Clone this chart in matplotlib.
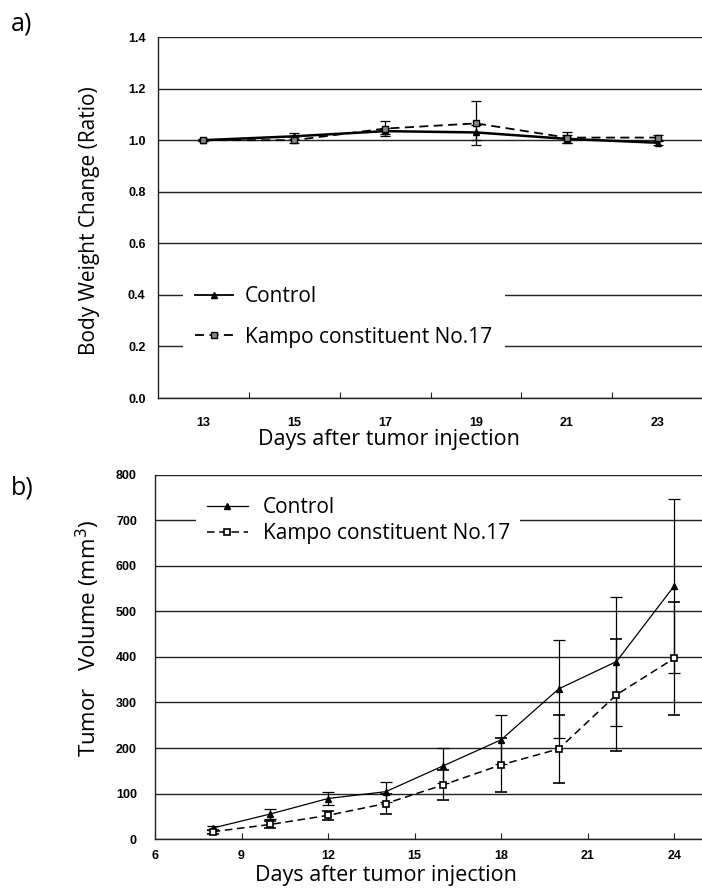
import matplotlib
matplotlib.use("Agg")
import matplotlib.pyplot as plt
from matplotlib.lines import Line2D
from matplotlib.ticker import FixedLocator, NullFormatter

# body weight ratio, panel a
bw_days = [13, 15, 17, 19, 21, 23]
bw_control = [1.00, 1.015, 1.035, 1.03, 1.005, 0.99]
bw_control_err = [0.005, 0.012, 0.012, 0.03, 0.015, 0.008]
bw_kampo = [1.00, 1.00, 1.045, 1.065, 1.01, 1.01]
bw_kampo_err = [0.005, 0.012, 0.028, 0.085, 0.022, 0.01]
bw_yticks = [0.0, 0.2, 0.4, 0.6, 0.8, 1.0, 1.2, 1.4]

# tumor volume (mm3), panel b
tv_days = [8, 10, 12, 14, 16, 18, 20, 22, 24]
tv_control = [24, 55, 89, 104, 161, 218, 330, 390, 556]
tv_control_err = [5, 10, 14, 22, 38, 54, 108, 142, 192]
tv_kampo = [16, 32, 52, 78, 119, 163, 198, 317, 397]
tv_kampo_err = [4, 7, 10, 22, 33, 59, 74, 123, 124]
tv_xticks = [6, 9, 12, 15, 18, 21, 24]
tv_yticks = [0, 100, 200, 300, 400, 500, 600, 700, 800]

series_names = ["Control", "Kampo constituent No.17"]

text_font = ["Open Sans", "DejaVu Sans"]
tick_font = ["Liberation Sans Narrow", "Liberation Sans", "DejaVu Sans"]
dash = (0, (5, 3))

fig = plt.figure(figsize=(7.02, 8.9), dpi=100)


def style_axes(ax):
    for side in ("top", "right"):
        ax.spines[side].set_visible(False)
    for side in ("left", "bottom"):
        ax.spines[side].set_color("#222222")
        ax.spines[side].set_linewidth(1.0)
    ax.yaxis.grid(True, color="#222222", linewidth=1.0)
    ax.set_axisbelow(True)
    ax.tick_params(axis="y", length=0)
    for lab in ax.get_xticklabels(which="both") + ax.get_yticklabels():
        lab.set_family(tick_font)
        lab.set_fontweight("bold")
        lab.set_fontsize(9)


# ---- a) body weight
ax1 = fig.add_axes([0.2251, 0.5528, 0.7764, 0.4056])
ax1.errorbar(bw_days, bw_control, yerr=bw_control_err, color="black", lw=1.8,
             marker="^", ms=5, mfc="black", mec="black",
             capsize=3.5, elinewidth=0.9, capthick=0.9, zorder=3)
ax1.errorbar(bw_days, bw_kampo, yerr=bw_kampo_err, color="black", lw=1.3,
             ls=dash, marker="s", ms=5, mfc="#888888", mec="black",
             capsize=3.5, elinewidth=0.9, capthick=0.9, zorder=3)
ax1.set_xlim(12, 24)
ax1.set_ylim(0, 1.4)
ax1.set_yticks(bw_yticks)
ax1.set_yticklabels(["%.1f" % v for v in bw_yticks])
# category style axis: ticks between the days, labels centred on the days
ax1.xaxis.set_major_locator(FixedLocator([14, 16, 18, 20, 22, 24]))
ax1.xaxis.set_major_formatter(NullFormatter())
ax1.xaxis.set_minor_locator(FixedLocator(bw_days))
ax1.set_xticklabels([str(d) for d in bw_days], minor=True)
ax1.tick_params(axis="x", which="major", direction="in", length=4, color="#222222")
ax1.tick_params(axis="x", which="minor", length=0, pad=14)
ax1.tick_params(axis="y", pad=9)
style_axes(ax1)

h1 = [Line2D([], [], color="black", lw=1.3, marker="^", ms=5, mfc="black"),
      Line2D([], [], color="black", lw=1.3, ls=dash, marker="s", ms=5,
             mfc="#888888", mec="black")]
leg1 = ax1.legend(h1, series_names, loc="center left",
                  bbox_to_anchor=(0.045, 0.225), frameon=True, fancybox=False,
                  facecolor="white", edgecolor="none", framealpha=1,
                  prop={"family": text_font, "size": 15},
                  handlelength=1.8, handletextpad=0.6, labelspacing=0.95,
                  borderpad=0.6, borderaxespad=0)

fig.text(90 / 702, 1 - 221 / 890, "Body Weight Change (Ratio)",
         rotation=90, ha="center", va="center", family=text_font, fontsize=15)
fig.text(389 / 702, 1 - 440 / 890, "Days after tumor injection",
         ha="center", va="center", family=text_font, fontsize=15.5)
fig.text(22 / 702, 1 - 24 / 890, "a)", ha="center", va="center",
         family=text_font, fontsize=18)

# ---- b) tumor volume
ax2 = fig.add_axes([0.2208, 0.0573, 0.7806, 0.409])
ax2.errorbar(tv_days, tv_control, yerr=tv_control_err, color="black", lw=0.9,
             marker="^", ms=5, mfc="black", mec="black",
             capsize=4, elinewidth=0.9, capthick=0.9, zorder=3)
ax2.errorbar(tv_days, tv_kampo, yerr=tv_kampo_err, color="black", lw=1.1,
             ls=dash, marker="s", ms=4.5, mfc="white", mec="black", mew=1.2,
             capsize=4, elinewidth=0.9, capthick=0.9, zorder=3)
ax2.set_xlim(6, 25)
ax2.set_ylim(0, 800)
ax2.set_xticks(tv_xticks)
ax2.set_xticklabels([str(d) for d in tv_xticks])
ax2.set_yticks(tv_yticks)
ax2.set_yticklabels([str(v) for v in tv_yticks])
ax2.tick_params(axis="x", direction="in", length=4, pad=8, color="#222222")
ax2.tick_params(axis="y", pad=13)
style_axes(ax2)

h2 = [Line2D([], [], color="black", lw=0.9, marker="^", ms=5, mfc="black"),
      Line2D([], [], color="black", lw=1.1, ls=dash, marker="s", ms=4.5,
             mfc="white", mec="black", mew=1.2)]
leg2 = ax2.legend(h2, series_names, loc="center left",
                  bbox_to_anchor=(0.075, 0.875), frameon=True, fancybox=False,
                  facecolor="white", edgecolor="none", framealpha=1,
                  prop={"family": text_font, "size": 15},
                  handlelength=2.0, handletextpad=0.7, labelspacing=0.25,
                  borderpad=0.5, borderaxespad=0)

fig.text(88 / 702, 1 - 638 / 890, "Tumor   Volume (mm$^{3}$)",
         rotation=90, ha="center", va="center", family=text_font, fontsize=16)
fig.text(386 / 702, 1 - 875 / 890, "Days after tumor injection",
         ha="center", va="center", family=text_font, fontsize=15.5)
fig.text(22 / 702, 1 - 488 / 890, "b)", ha="center", va="center",
         family=text_font, fontsize=18)

fig.savefig("out.png", dpi=100)
